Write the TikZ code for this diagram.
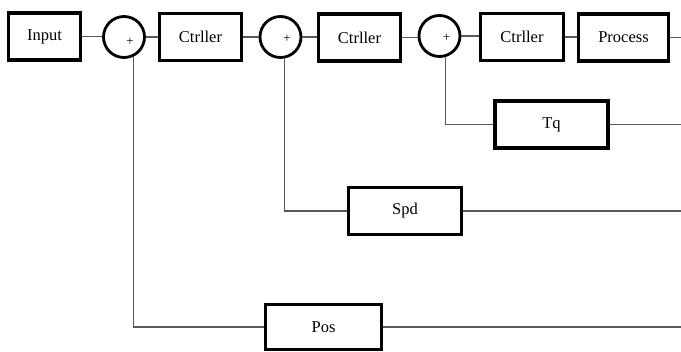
\documentclass[tikz,border=0pt]{standalone}
\usepackage{fontspec}
\setmainfont{Liberation Serif}
\begin{document}
\begin{tikzpicture}[x=1pt,y=-1pt,
  blk/.style={draw=black,line width=3.2pt,fill=white,inner sep=0pt,
    minimum width=#1,minimum height=47pt,font=\fontsize{16.5}{18}\selectfont},
  blk/.default=83pt,
  sum/.style={draw=black,line width=2.8pt,circle,inner sep=0pt,minimum size=41pt},
  plus/.style={inner sep=0pt,font=\fontsize{13}{14}\selectfont},
  wire/.style={draw=black!65,line width=1.3pt}]
\useasboundingbox (0,0) rectangle (681,352);
% main row
\node[blk=72pt] (in) at (44.5,36.5) {Input};
\node[sum] (c1) at (124,37) {};
\node[plus] (p1) at (130,42) {+};
\node[blk=82pt] (k1) at (200.5,37) {Ctrller};
\node[sum] (c2) at (280.5,37) {};
\node[plus] (p2) at (287,39) {+};
\node[blk=82pt] (k2) at (359.5,37.5) {Ctrller};
\node[sum] (c3) at (439.5,36) {};
\node[plus] (p3) at (446.5,38) {+};
\node[blk=83pt] (k3) at (522,37) {Ctrller};
\node[blk=90pt] (pr) at (623.5,37.5) {Process};
\coordinate (e0) at (681,37.5);
% feedback blocks
\node[blk=113pt] (tq) at (551.5,124.5) {Tq};
\node[blk=113pt] (sp) at (405,211) {Spd};
\node[blk=116pt,minimum height=45pt] (ps) at (323.5,327) {Pos};
\coordinate (e1) at (681,124.5);
\coordinate (e2) at (681,211);
\coordinate (e3) at (681,327);
% connectors
\draw[wire] (in.east) -- (in.east -| c1.west);
\draw[wire] (c1.east) -- (c1.east -| k1.west);
\draw[wire] (k1.east) -- (k1.east -| c2.west);
\draw[wire] (c2.east) -- (c2.east -| k2.west);
\draw[wire] (k2.east) -- (k2.east -| c3.west);
\draw[wire] (c3.east) -- (c3.east -| k3.west);
\draw[wire] (k3.east) -- (k3.east -| pr.west);
\draw[wire] (pr.east) -- (e0);
\draw[wire] (c3.-74) |- (tq.west);
\draw[wire] (c2.-80) |- (sp.west);
\draw[wire] (c1.-65) |- (ps.west);
\draw[wire] (tq.east) -- (e1);
\draw[wire] (sp.east) -- (e2);
\draw[wire] (ps.east) -- (e3);
\end{tikzpicture}
\end{document}
